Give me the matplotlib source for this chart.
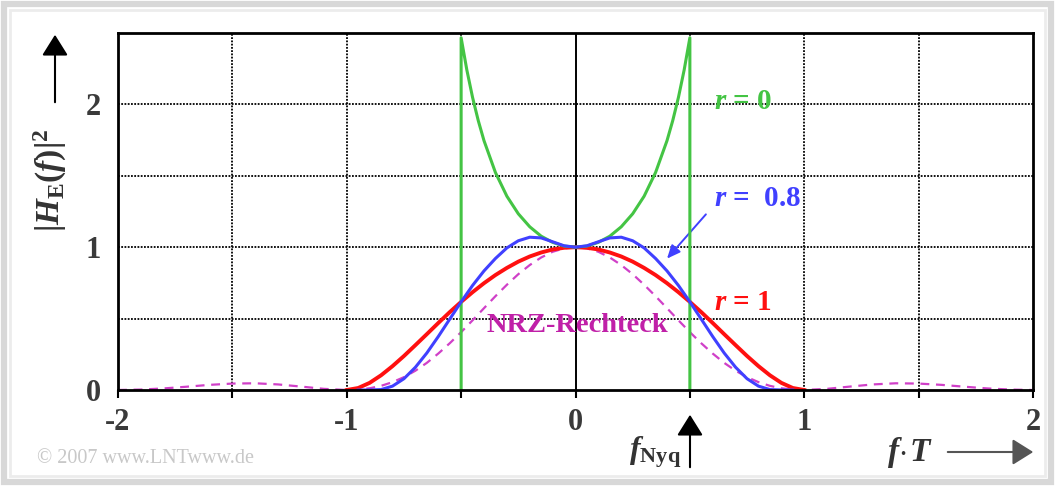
import matplotlib
matplotlib.use("Agg")
import matplotlib.pyplot as plt
from matplotlib.patches import Rectangle, FancyArrowPatch

# ---------------- data ----------------
f_nrz = [-2.0, -1.9, -1.8, -1.7, -1.6, -1.5, -1.4, -1.3, -1.2, -1.1, -1.0,
         -0.95, -0.9, -0.85, -0.8, -0.75, -0.7, -0.65, -0.6, -0.55, -0.5,
         -0.45, -0.4, -0.35, -0.3, -0.25, -0.2, -0.15, -0.1, -0.05, 0.0,
         0.05, 0.1, 0.15, 0.2, 0.25, 0.3, 0.35, 0.4, 0.45, 0.5,
         0.55, 0.6, 0.65, 0.7, 0.75, 0.8, 0.85, 0.9, 0.95, 1.0,
         1.1, 1.2, 1.3, 1.4, 1.5, 1.6, 1.7, 1.8, 1.9, 2.0]
h_nrz = [0.0, 0.003, 0.011, 0.023, 0.036, 0.045, 0.047, 0.039, 0.024, 0.008, 0.0,
         0.003, 0.012, 0.029, 0.055, 0.090, 0.135, 0.190, 0.255, 0.327, 0.405,
         0.488, 0.573, 0.657, 0.737, 0.811, 0.875, 0.928, 0.968, 0.992, 1.0,
         0.992, 0.968, 0.928, 0.875, 0.811, 0.737, 0.657, 0.573, 0.488, 0.405,
         0.327, 0.255, 0.190, 0.135, 0.090, 0.055, 0.029, 0.012, 0.003, 0.0,
         0.008, 0.024, 0.039, 0.047, 0.045, 0.036, 0.023, 0.011, 0.003, 0.0]

f_r1 = [-1.0, -0.95, -0.9, -0.85, -0.8, -0.75, -0.7, -0.65, -0.6, -0.55, -0.5,
        -0.45, -0.4, -0.35, -0.3, -0.25, -0.2, -0.15, -0.1, -0.05, 0.0,
        0.05, 0.1, 0.15, 0.2, 0.25, 0.3, 0.35, 0.4, 0.45, 0.5,
        0.55, 0.6, 0.65, 0.7, 0.75, 0.8, 0.85, 0.9, 0.95, 1.0]
h_r1 = [0.0, 0.014, 0.050, 0.103, 0.167, 0.238, 0.314, 0.391, 0.469, 0.545, 0.617,
        0.685, 0.748, 0.805, 0.855, 0.899, 0.935, 0.963, 0.984, 0.996, 1.0,
        0.996, 0.984, 0.963, 0.935, 0.899, 0.855, 0.805, 0.748, 0.685, 0.617,
        0.545, 0.469, 0.391, 0.314, 0.238, 0.167, 0.103, 0.050, 0.014, 0.0]

f_r08 = [-0.95, -0.9, -0.85, -0.8, -0.75, -0.7, -0.65, -0.6, -0.55, -0.5,
         -0.45, -0.4, -0.35, -0.3, -0.25, -0.2, -0.15, -0.1, -0.05, 0.0,
         0.05, 0.1, 0.15, 0.2, 0.25, 0.3, 0.35, 0.4, 0.45, 0.5,
         0.55, 0.6, 0.65, 0.7, 0.75, 0.8, 0.85, 0.9, 0.95]
h_r08 = [0.0, 0.0, 0.003, 0.027, 0.079, 0.159, 0.259, 0.374, 0.496, 0.617,
         0.732, 0.834, 0.921, 0.995, 1.045, 1.070, 1.065, 1.038, 1.010, 1.0,
         1.010, 1.038, 1.065, 1.070, 1.045, 0.995, 0.921, 0.834, 0.732, 0.617,
         0.496, 0.374, 0.259, 0.159, 0.079, 0.027, 0.003, 0.0, 0.0]

f_r0 = [-0.5, -0.5, -0.475, -0.45, -0.425, -0.4, -0.35, -0.3, -0.25, -0.2, -0.15, -0.1, -0.05, 0.0,
        0.05, 0.1, 0.15, 0.2, 0.25, 0.3, 0.35, 0.4, 0.425, 0.45, 0.475, 0.5, 0.5]
h_r0 = [0.0, 2.467, 2.241, 2.049, 1.886, 1.746, 1.523, 1.357, 1.234, 1.143, 1.077, 1.034, 1.008, 1.0,
        1.008, 1.034, 1.077, 1.143, 1.234, 1.357, 1.523, 1.746, 1.886, 2.049, 2.241, 2.467, 0.0]

x_major = [-2, -1, 0, 1, 2]
x_major_labels = ["-2", "-1", "0", "1", "2"]
x_minor = [-1.5, -0.5, 0.5, 1.5]
y_ticks = [0, 1, 2]
y_tick_labels = ["0", "1", "2"]
grid_x = [-1.5, -1.0, -0.5, 0.5, 1.0, 1.5]
grid_y = [0.5, 1.0, 1.5, 2.0]

# ---------------- style ----------------
plt.rcParams["font.family"] = ["Liberation Serif", "DejaVu Serif"]
plt.rcParams["mathtext.fontset"] = "custom"
plt.rcParams["mathtext.rm"] = "Liberation Serif:weight=bold"
plt.rcParams["mathtext.it"] = "Liberation Serif:style=italic:weight=bold"
plt.rcParams["mathtext.bf"] = "Liberation Serif:weight=bold"

W, H = 1059, 486
fig = plt.figure(figsize=(W / 100, H / 100), dpi=100)
fig.patch.set_facecolor("white")

def fx(px):
    return px / W

def fy(py):
    return 1 - py / H

# outer frame
fig.patches.append(Rectangle((fx(4), fy(482)), fx(1051) - fx(4), fy(4) - fy(482),
                             transform=fig.transFigure, fill=False,
                             edgecolor="#d8d8d8", linewidth=4.5, zorder=0))
fig.patches.append(Rectangle((fx(10), fy(476)), fx(1045) - fx(10), fy(10) - fy(476),
                             transform=fig.transFigure, fill=False,
                             edgecolor="#ececec", linewidth=2, zorder=0))

ax = fig.add_axes([fx(118), fy(390), fx(1033) - fx(118), fy(33) - fy(390)])
ax.set_xlim(-2, 2)
ax.set_ylim(0, 2.5)

for g in grid_x:
    ax.axvline(g, color="black", lw=1.3, ls=(0, (1, 0.8)), zorder=1)
for g in grid_y:
    ax.axhline(g, color="black", lw=1.3, ls=(0, (1, 0.8)), zorder=1)
ax.axvline(0, color="black", lw=1.4, zorder=1)

ax.plot(f_nrz, h_nrz, color="#d040c8", lw=1.6, ls=(0, (4, 3)), zorder=3)
ax.plot(f_r1, h_r1, color="#ff1010", lw=2.8, zorder=4)
ax.plot(f_r0, h_r0, color="#44c444", lw=2.2, zorder=5)
ax.plot(f_r08, h_r08, color="#4040ff", lw=2.2, zorder=6)

for s in ax.spines.values():
    s.set_linewidth(2)
    s.set_color("black")
    s.set_zorder(7)

ax.set_xticks(x_major)
ax.set_xticklabels(x_major_labels)
ax.set_xticks(x_minor, minor=True)
ax.tick_params(axis="x", which="both", direction="out", length=6, width=1.5,
               color="black", pad=7, labelsize=22, labelcolor="#3a3a3a")
for lab in ax.get_xticklabels():
    lab.set_fontweight("bold")
ax.set_yticks(y_ticks)
ax.set_yticklabels(y_tick_labels)
ax.tick_params(axis="y", length=0, pad=12, labelsize=22, labelcolor="#3a3a3a")
for lab in ax.get_yticklabels():
    lab.set_fontweight("bold")

# curve labels
ax.text(0.605, 2.02, r"$r$ = 0", color="#44c444", fontsize=21, fontweight="bold",
        ha="left", va="center")
ax.text(0.605, 1.34, r"$r$ =  0.8", color="#4040ff", fontsize=21, fontweight="bold",
        ha="left", va="center")
ax.text(0.605, 0.61, r"$r$ = 1", color="#ff1010", fontsize=21, fontweight="bold",
        ha="left", va="center")
ax.text(-0.39, 0.45, "NRZ-Rechteck", color="#c020a8", fontsize=20.5, fontweight="bold",
        ha="left", va="center")
ax.annotate("", xy=(0.40, 0.92), xytext=(0.57, 1.23),
            arrowprops=dict(arrowstyle="-|>,head_length=0.8,head_width=0.35",
                            color="#4040ff", lw=1.4, shrinkA=0, shrinkB=0))

# axis labels and arrows
fig.text(fx(50), fy(180), r"$|H_{\rm E}(f)|^2$", rotation=90, fontsize=24,
         ha="center", va="center", color="#333333")
fig.add_artist(FancyArrowPatch(
    (fx(55), fy(105)), (fx(55), fy(32)), transform=fig.transFigure,
    arrowstyle="-|>,head_length=8,head_width=5", color="black", lw=1.5,
    mutation_scale=1.6))
fig.text(fx(910), fy(452), r"$f\!\cdot\!T$", fontsize=24, ha="center", va="center",
         color="#333333")
fig.add_artist(FancyArrowPatch(
    (fx(945), fy(452)), (fx(1036), fy(452)), transform=fig.transFigure,
    arrowstyle="-|>,head_length=8,head_width=5", color="#555555", lw=1.5,
    mutation_scale=1.6))
fig.text(fx(655), fy(452), r"$f_{\rm Nyq}$", fontsize=23, ha="center", va="center",
         color="#333333")
fig.add_artist(FancyArrowPatch(
    (fx(690), fy(470)), (fx(690), fy(412)), transform=fig.transFigure,
    arrowstyle="-|>,head_length=8,head_width=5", color="black", lw=1.5,
    mutation_scale=1.6))

fig.text(fx(37), fy(458), "© 2007 www.LNTwww.de", fontsize=14.5, color="#c8c8c8",
         ha="left", va="center")

fig.savefig("out.png", dpi=100, facecolor="white")
